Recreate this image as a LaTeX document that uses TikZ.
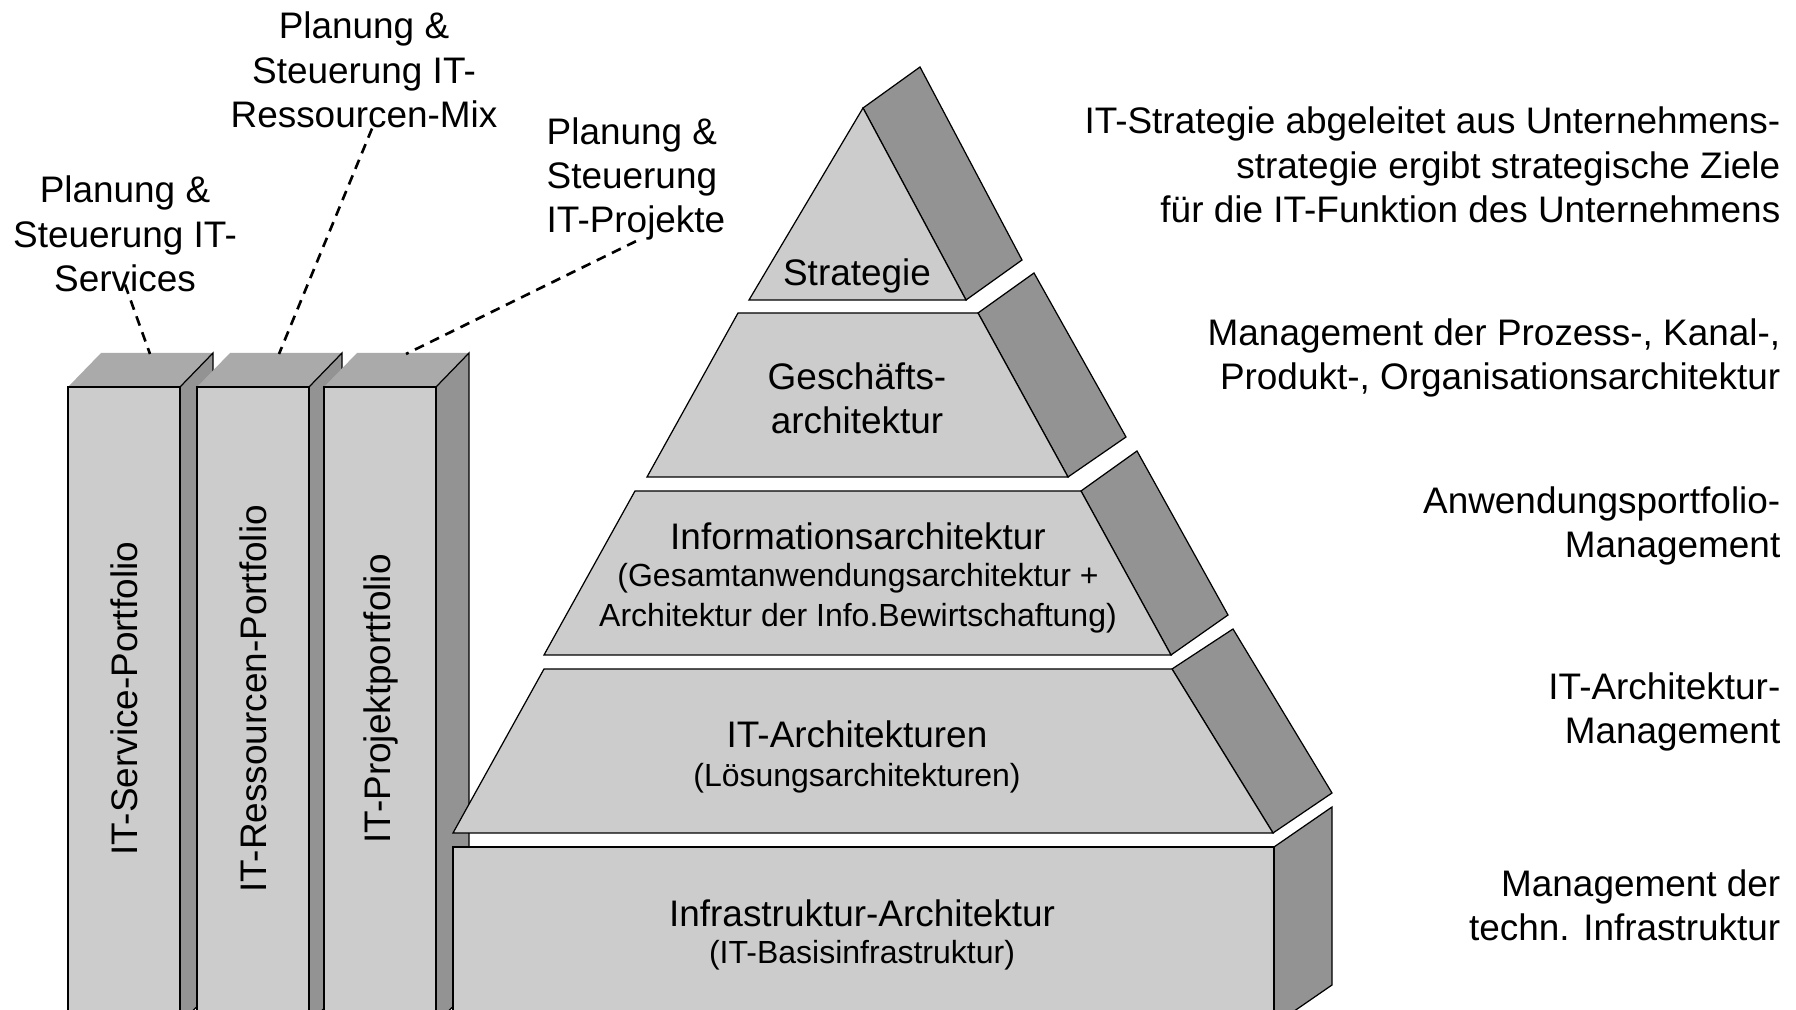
\documentclass[tikz,border=0pt]{standalone}
\usepackage{fontspec}
\setmainfont{Liberation Sans}
\definecolor{facefront}{RGB}{204,204,204}
\definecolor{faceside}{RGB}{147,147,147}
\definecolor{facetop}{RGB}{170,170,170}
\tikzset{
  edge/.style={draw=black, line width=0.35pt, line join=miter},
  front/.style={edge, fill=facefront},
  side/.style={edge, fill=faceside},
  lbl/.style={inner sep=0pt, align=center, font=\fontsize{10.5}{12.6}\selectfont},
  sublbl/.style={inner sep=0pt, align=center, font=\fontsize{9.1}{11.4}\selectfont},
  leader/.style={line width=0.75pt, dash pattern=on 2.8pt off 2pt},
}
\begin{document}
\begin{tikzpicture}[x=0.01cm, y=-0.01cm]
    \useasboundingbox (0,0) rectangle (1796,1010);
    \clip (0,0) rectangle (1796,1010);
    % portfolio pillars
    \foreach \px/\nm in {68/svc,197/res,324/prj} {
      \fill[facetop] (\px,387) -- ({\px+33},353) -- ({\px+145},353) -- ({\px+112},387) -- cycle;
      \path[side] ({\px+112},387) -- ({\px+145},353) -- ({\px+145},990) -- ({\px+112},1024) -- cycle;
      \path[front] (\px,387) rectangle ({\px+112},1030);
      \coordinate (top\nm) at ({\px+82},354);
    }
    \node[lbl, rotate=90] (colsvc) at (124,699) {IT-Service-Portfolio};
    \node[lbl, rotate=90] (colres) at (253,699) {IT-Ressourcen-Portfolio};
    \node[lbl, rotate=90] (colprj) at (381,699) {IT-Projektportfolio};
    % pyramid layers
    \path[side] (863,108) -- (920,67) -- (1022,260) -- (966,300) -- cycle;
    \path[front] (863,108) -- (966,300) -- (749,300) -- cycle;
    \path[side] (978,313) -- (1034,273) -- (1126,437) -- (1068,477) -- cycle;
    \path[front] (738,313) -- (978,313) -- (1068,477) -- (647,477) -- cycle;
    \path[side] (1081,491) -- (1137,451) -- (1228,615) -- (1171,655) -- cycle;
    \path[front] (635,491) -- (1081,491) -- (1171,655) -- (544,655) -- cycle;
    \path[side] (1172,669) -- (1233,629) -- (1332,793) -- (1273,833) -- cycle;
    \path[front] (544,669) -- (1172,669) -- (1273,833) -- (453,833) -- cycle;
    \path[side] (1274,847) -- (1332,807) -- (1332,985) -- (1274,1025) -- cycle;
    \path[front] (453,847) rectangle (1274,1030);
    \node[lbl] (lyrstr) at (857,276) {Strategie};
    \node[lbl] (lyrgsa) at (857,398) {Geschäfts-\\architektur};
    \node[lbl] (lyrinf) at (858,536) {Informationsarchitektur};
    \node[sublbl] (lyrinfsub) at (858,598) {(Gesamtanwendungsarchitektur +\\Architektur der Info.Bewirtschaftung)};
    \node[lbl] (lyrita) at (857,734) {IT-Architekturen};
    \node[sublbl] (lyritasub) at (857,778) {(Lösungsarchitekturen)};
    \node[lbl] (lyrinfra) at (862,913) {Infrastruktur-Architektur};
    \node[sublbl] (lyrinfrasub) at (862,955) {(IT-Basisinfrastruktur)};
    % management notes
    \node[lbl, align=right, anchor=east] (notestr) at (1781,165) {IT-Strategie abgeleitet aus Unternehmens-\\strategie ergibt strategische Ziele\\für die IT-Funktion des Unternehmens};
    \node[lbl, align=right, anchor=east] (notegsa) at (1781,358) {Management der Prozess-, Kanal-,\\Produkt-, Organisationsarchitektur};
    \node[lbl, align=right, anchor=east] (noteinf) at (1781,526) {Anwendungsportfolio-\\Management};
    \node[lbl, align=right, anchor=east] (noteita) at (1781,712) {IT-Architektur-\\Management};
    \node[lbl, align=right, anchor=east] (noteinfra) at (1781,905) {Management der\\techn. Infrastruktur};
    % planning labels
    \node[lbl] (lblsvc) at (125,234) {Planung \&\\Steuerung IT-\\Services};
    \node[lbl] (lblres) at (364,70) {Planung \&\\Steuerung IT-\\Ressourcen-Mix};
    \node[lbl, align=left, anchor=west] (lblprj) at (546,179) {Planung \&\\Steuerung\\IT-Projekte};
    \draw[leader] ([yshift=0.08cm]lblsvc.south) -- (topsvc);
    \draw[leader] ([xshift=0.08cm]lblres.south) -- (topres);
    \draw[leader] (lblprj.south) -- (topprj);
\end{tikzpicture}
\end{document}
